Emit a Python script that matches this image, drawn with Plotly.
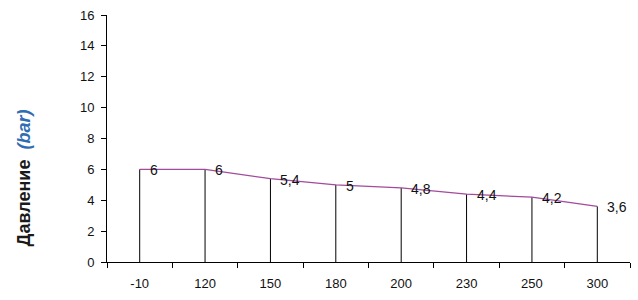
import plotly.graph_objects as go

categories = ["-10", "120", "150", "180", "200", "230", "250", "300"]
pressure = [6, 6, 5.4, 5, 4.8, 4.4, 4.2, 3.6]
y_ticks = [0, 2, 4, 6, 8, 10, 12, 14, 16]

labels = [("%g" % v).replace(".", ",") for v in pressure]

fig = go.Figure()
fig.add_trace(go.Scatter(
    x=categories, y=pressure,
    mode="lines",
    line=dict(color="#a24a9c", width=1.3),
    error_y=dict(type="data", symmetric=False, array=[0] * len(pressure),
                 arrayminus=pressure, width=0, color="black", thickness=1),
    showlegend=False,
    cliponaxis=False,
))

annotations = [dict(
    x=i, y=v, xref="x", yref="y", text=t, showarrow=False,
    xanchor="left", yanchor="middle", xshift=8, yshift=-1,
    font=dict(size=14, color="#111"),
) for i, (v, t) in enumerate(zip(pressure, labels))]

annotations.append(dict(
    text="<b>Давление</b>  <b><i><span style='color:#2f6db3'>(bar)</span></i></b>",
    xref="paper", yref="paper", x=-0.158, y=0.34,
    xanchor="center", yanchor="middle", textangle=-90, showarrow=False,
    font=dict(size=18, color="#1a1a1a"),
))

fig.update_layout(
    width=638, height=300,
    margin=dict(l=107, r=8, t=15, b=38),
    paper_bgcolor="white", plot_bgcolor="white",
    font=dict(family="Liberation Sans, Arial, sans-serif", size=13, color="#111"),
    xaxis=dict(type="category", range=[-0.5, 7.5], showline=True, linecolor="black",
               linewidth=1, ticks="outside", ticklen=5, tickcolor="black",
               tickson="boundaries", showgrid=False, zeroline=False,
               tickfont=dict(size=13), ticklabelstandoff=9),
    yaxis=dict(range=[0, 16], tickvals=y_ticks, showline=True, linecolor="black",
               linewidth=1, ticks="outside", ticklen=5, tickcolor="black",
               showgrid=False, zeroline=False, tickfont=dict(size=13),
               ticklabelstandoff=4),
    annotations=annotations,
)

fig.write_html("out.html")
